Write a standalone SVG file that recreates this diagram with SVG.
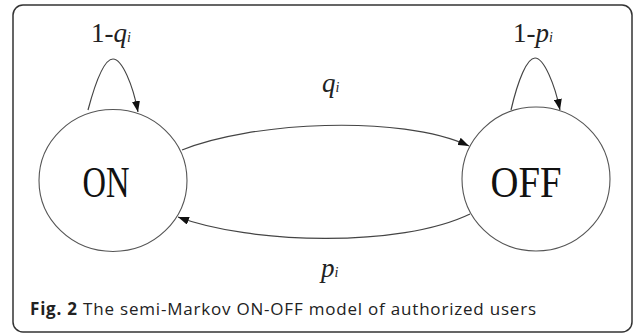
<svg xmlns="http://www.w3.org/2000/svg" width="634" height="334" viewBox="0 0 634 334">
<defs>
<marker id="arr" markerWidth="12" markerHeight="8" refX="11" refY="4" orient="auto" markerUnits="userSpaceOnUse">
<path d="M0,0 L11,4 L0,8 z" fill="#111"/>
</marker>
</defs>
<rect x="13" y="5" width="619" height="327" rx="10" fill="#fff" stroke="#333" stroke-width="1.5"/>
<g id="connectors" fill="none" stroke="#444" stroke-width="1.2">
<path d="M88,110 C96,80 105,59 113,59 C122,59 133,85 138,112" marker-end="url(#arr)"/>
<path d="M511,110 C518,80 527,58 535,58 C544,58 555,85 560,110" marker-end="url(#arr)"/>
<path d="M182,150 C250,122 400,114 469,146" marker-end="url(#arr)"/>
<path d="M470,214 C400,248 250,244 178,217" marker-end="url(#arr)"/>
</g>
<g id="node-on">
<ellipse cx="113" cy="180.5" rx="74" ry="71" fill="#fff" stroke="#555" stroke-width="1.1"/>
<text font-family="Liberation Serif" font-size="44" fill="#111" text-anchor="middle" transform="translate(106,197) scale(0.74,1)">ON</text>
</g>
<g id="node-off">
<ellipse cx="536" cy="179" rx="74" ry="72" fill="#fff" stroke="#555" stroke-width="1.1"/>
<text font-family="Liberation Serif" font-size="44" fill="#111" text-anchor="middle" transform="translate(526,197) scale(0.88,1)">OFF</text>
</g>
<g id="labels">
<text font-family="Liberation Serif" font-size="27" fill="#222" x="91" y="42">1-<tspan font-style="italic">q</tspan><tspan font-style="italic" font-size="14">i</tspan></text>
<text font-family="Liberation Serif" font-size="27" fill="#222" x="513" y="42">1-<tspan font-style="italic">p</tspan><tspan font-style="italic" font-size="14">i</tspan></text>
<text font-family="Liberation Serif" font-size="27" fill="#222" x="322" y="92"><tspan font-style="italic">q</tspan><tspan font-style="italic" font-size="14">i</tspan></text>
<text font-family="Liberation Serif" font-size="27" fill="#222" x="321" y="277"><tspan font-style="italic">p</tspan><tspan font-style="italic" font-size="14">i</tspan></text>
</g>
<text font-family="Open Sans" font-size="17" fill="#222" x="30" y="315" textLength="506" lengthAdjust="spacing"><tspan font-weight="bold">Fig. 2</tspan> The semi-Markov ON-OFF model of authorized users</text>
</svg>
